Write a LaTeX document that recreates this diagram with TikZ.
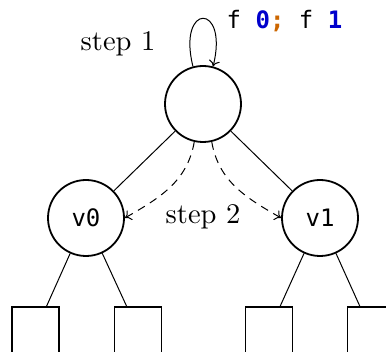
\documentclass[tikz,border=0pt]{standalone}
\usepackage{fontspec}
\newfontfamily\codefont{DejaVu Sans Mono}
\newfontfamily\stepfont{lmroman10-regular}[Extension=.otf]
\usetikzlibrary{arrows.meta}
\definecolor{codeblue}{RGB}{0,0,204}
\definecolor{codeorange}{RGB}{204,102,0}
\tikzset{
  treenode/.style={circle, draw, line width=1.8pt, minimum size=76pt, inner sep=0pt, font=\codefont\fontsize{24}{28}\selectfont},
  leafbox/.style={rectangle, draw, line width=1.8pt, minimum width=47pt, minimum height=48pt, inner sep=0pt},
  edge/.style={line width=1pt},
  stepline/.style={line width=1pt, dash pattern=on 8pt off 6pt},
  label/.style={font=\stepfont\fontsize{28.5}{34}\selectfont, inner sep=0pt},
  tip/.style={-{Computer Modern Rightarrow[length=6pt,width=11pt]}}
}
\begin{document}
\begin{tikzpicture}[x=1pt,y=1pt]
\useasboundingbox (0,0) rectangle (386,-352);
\node[treenode] (root) at (203,-104) {};
\node[treenode] (v0) at (86,-218) {v0};
\node[treenode] (v1) at (320,-218) {v1};
\node[leafbox] (b1) at (35.5,-331) {};
\node[leafbox] (b2) at (138,-331) {};
\node[leafbox] (b3) at (269,-331) {};
\node[leafbox] (b4) at (371,-331) {};
\draw[edge] (root) -- (v0);
\draw[edge] (root) -- (v1);
\draw[edge] (v0) -- (b1);
\draw[edge] (v0) -- (b2);
\draw[edge] (v1) -- (b3);
\draw[edge] (v1) -- (b4);
\draw[edge, tip] (root.105) .. controls +(104:66) and +(76:66) .. (root.75);
\draw[stepline, tip] (root.-103) to[out=-100, in=30] (v0.east);
\draw[stepline, tip] (root.-77) to[out=-80, in=150] (v1.west);
\node[label] (s1) at (118,-44) {step 1};
\node[label] (s2) at (203,-217) {step 2};
\node[anchor=base west, inner sep=0pt, font=\codefont\fontsize{24}{28}\selectfont] (code) at (226.5,-28.3) {f \textcolor{codeblue}{\bfseries 0}\textcolor{codeorange}{\bfseries ;} f \textcolor{codeblue}{\bfseries 1}};
\end{tikzpicture}
\end{document}
